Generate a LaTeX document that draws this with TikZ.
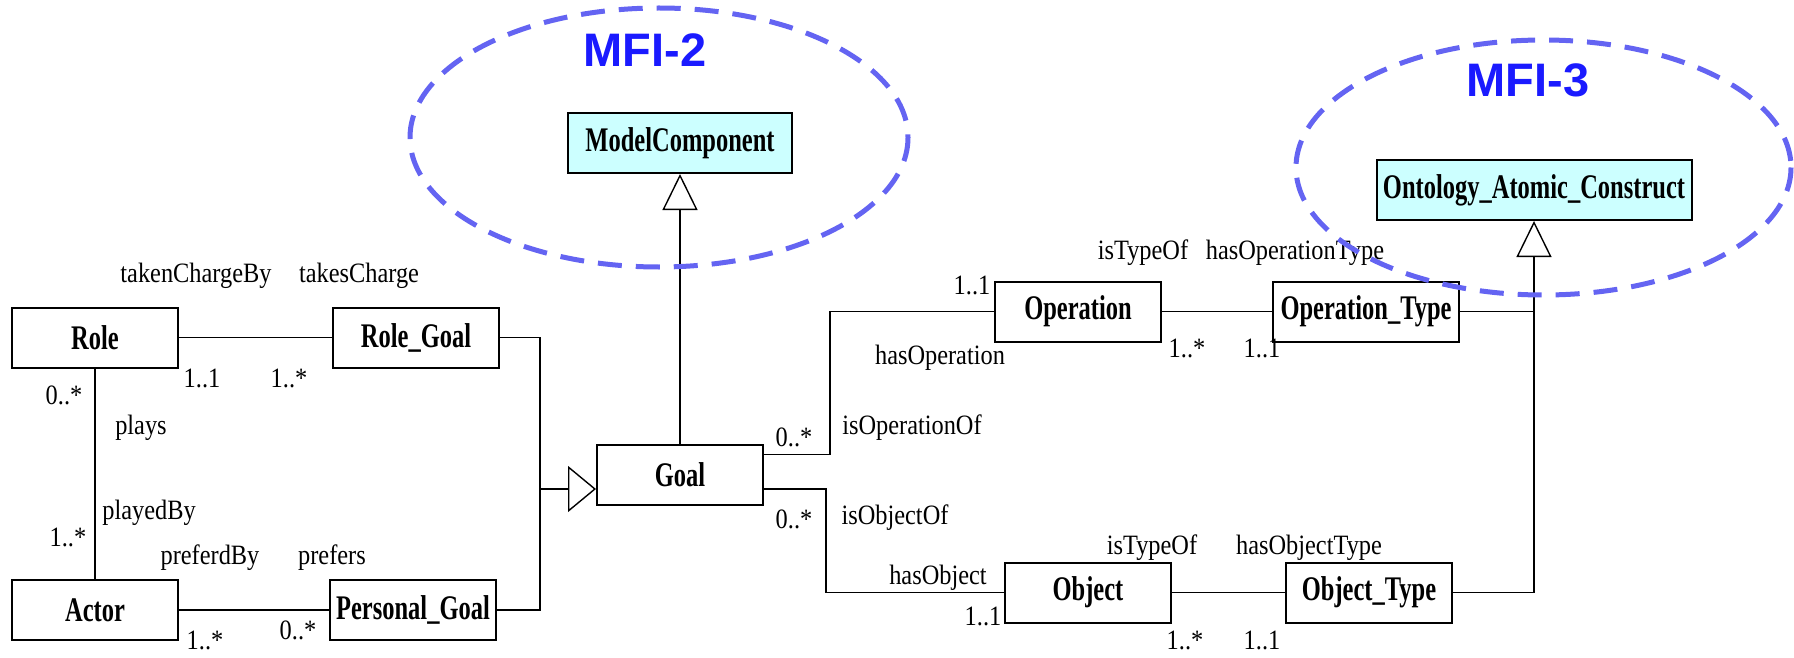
\documentclass[tikz,border=0pt]{standalone}
\usepackage{fontspec}
\usetikzlibrary{arrows.meta}
\setsansfont{Liberation Sans}
\newfontfamily\labfont[FakeStretch=0.87]{Liberation Serif}
\newfontfamily\boxfont[FakeStretch=0.71]{Liberation Serif}
\definecolor{mfiline}{HTML}{6464F2}
\definecolor{mfitext}{HTML}{1A1AFF}
\definecolor{metafill}{HTML}{CCFFFF}

\begin{document}
\begin{tikzpicture}[x=0.5pt, y=-0.5pt,
  cls/.style={draw, line width=1pt, minimum width=83pt, minimum height=30pt, inner sep=0pt,
    font=\boxfont\bfseries\fontsize{17.25}{20}\selectfont},
  meta/.style={cls, fill=metafill},
  lab/.style={inner sep=0pt, text height=9.3pt, text depth=0pt,
    font=\labfont\fontsize{14}{16}\selectfont},
  assoc/.style={line width=0.7pt},
  isa/.style={assoc, -{Triangle[open, length=18pt, width=17.5pt]}},
  isaside/.style={assoc, -{Triangle[open, length=14pt, width=23pt]}},
  mfi/.style={draw=mfiline, line width=2.5pt, dash pattern=on 12pt off 7pt},
  mfilabel/.style={inner sep=0pt, text depth=0pt, text=mfitext,
    font=\sffamily\bfseries\fontsize{23.5}{26}\selectfont}
]
\useasboundingbox (0,0) rectangle (1794,658);

% Roles, actors and their goals
\node[cls] (role) at (95,337.5) {Role};
\node[cls] (rolegoal) at (416,337.5) {Role\_Goal};
\node[cls] (actor) at (95,610) {Actor};
\node[cls] (persgoal) at (413,610) {Personal\_Goal};

% Goal and the MFI-2 part
\node[meta, minimum width=112pt] (modelcomp) at (680,143) {ModelComponent};
\node[cls] (goal) at (680,474.5) {Goal};

% Operations, objects and the MFI-3 part
\node[cls] (op) at (1078,311.5) {Operation};
\node[cls, minimum width=93pt] (optype) at (1366,311.5) {Operation\_Type};
\node[cls] (obj) at (1088,592.5) {Object};
\node[cls] (objtype) at (1369,592.5) {Object\_Type};
\node[meta, minimum width=157.5pt] (onto) at (1534,190) {Ontology\_Atomic\_Construct};

% Associations on the left
\draw[assoc] (role.east) -- (rolegoal.west);
\draw[assoc] (role.south) -- (actor.north);
\draw[assoc] (actor.east) -- (persgoal.west);

% Generalisations to Goal and ModelComponent
\coordinate (bus) at (540,489);
\draw[assoc] (rolegoal.east) -| (bus) |- (persgoal.east);
\draw[isaside] (bus) -- ([yshift=-7.25pt]goal.west);
\draw[isa] (goal.north) -- (modelcomp.south);

% Associations from Goal
\draw[assoc] ([yshift=10pt]goal.east) -| ([xshift=-82pt]op.west) -- (op.west);
\draw[assoc] ([yshift=-7.25pt]goal.east) -| ([xshift=-89pt]obj.west) -- (obj.west);
\draw[assoc] (op.east) -- (optype.west);
\draw[assoc] (obj.east) -- (objtype.west);

% Generalisations to Ontology_Atomic_Construct
\draw[assoc] (optype.east) -- (optype.east -| onto.south);
\draw[isa] (objtype.east) -| (onto.south);

% Role names and multiplicities
\node[lab] (l1) at (196,273) {takenChargeBy};
\node[lab] (l2) at (359,273) {takesCharge};
\node[lab] (m1) at (202,378) {1..1};
\node[lab] (m2) at (289,378) {1..*};
\node[lab] (m3) at (64,395) {0..*};
\node[lab] (l3) at (141,425) {plays};
\node[lab] (l4) at (149,510) {playedBy};
\node[lab] (m4) at (68,537) {1..*};
\node[lab] (l5) at (210,555) {preferdBy};
\node[lab] (l6) at (332,555) {prefers};
\node[lab] (m5) at (205,640) {1..*};
\node[lab] (m6) at (298,630) {0..*};

\node[lab] (m7) at (972,285) {1..1};
\node[lab] (l7) at (940,355) {hasOperation};
\node[lab] (m8) at (794,437) {0..*};
\node[lab] (l8) at (912,425) {isOperationOf};
\node[lab] (m9) at (794,519) {0..*};
\node[lab] (l9) at (895,515) {isObjectOf};
\node[lab] (l10) at (938,575) {hasObject};
\node[lab] (m10) at (983,616) {1..1};

\node[lab] (l11) at (1143,250) {isTypeOf};
\node[lab] (l12) at (1295,250) {hasOperationType};
\node[lab] (m11) at (1187,348) {1..*};
\node[lab] (m12) at (1262,348) {1..1};
\node[lab] (l13) at (1152,545) {isTypeOf};
\node[lab] (l14) at (1309,545) {hasObjectType};
\node[lab] (m13) at (1185,640) {1..*};
\node[lab] (m14) at (1262,640) {1..1};

% Metamodel parts
\draw[mfi] (659,137.5) ellipse [x radius=249, y radius=129.5];
\draw[mfi] (1543.5,167.5) ellipse [x radius=247.5, y radius=127.5];
\node[mfilabel] (mfitwo) at (645,50) {MFI-2};
\node[mfilabel] (mfithree) at (1528,80) {MFI-3};

\end{tikzpicture}
\end{document}
